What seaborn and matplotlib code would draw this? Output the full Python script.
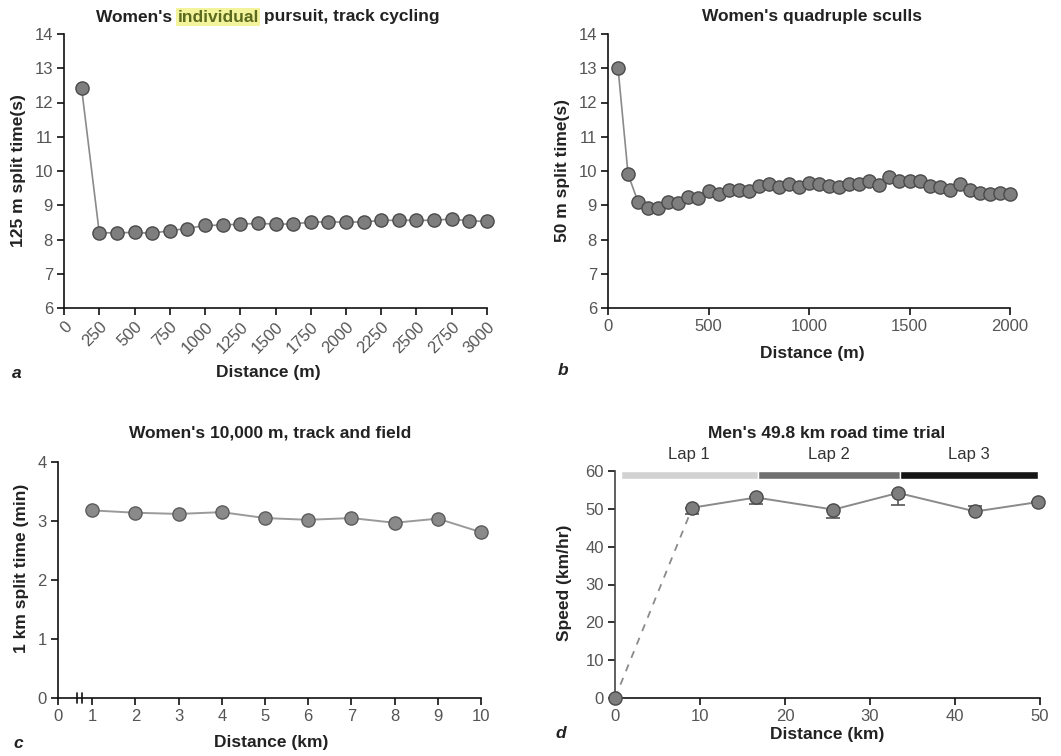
import matplotlib
matplotlib.use("Agg")
import matplotlib.pyplot as plt
import seaborn as sns
import numpy as np

# ---------------- data ----------------
a_dist = [125, 250, 375, 500, 625, 750, 875, 1000, 1125, 1250, 1375, 1500,
          1625, 1750, 1875, 2000, 2125, 2250, 2375, 2500, 2625, 2750, 2875, 3000]
a_split = [12.41, 8.20, 8.19, 8.21, 8.18, 8.26, 8.32, 8.41, 8.42, 8.45, 8.47, 8.45,
           8.45, 8.51, 8.51, 8.51, 8.51, 8.56, 8.56, 8.56, 8.56, 8.60, 8.54, 8.53]
a_xticks = [0, 250, 500, 750, 1000, 1250, 1500, 1750, 2000, 2250, 2500, 2750, 3000]

b_dist = list(range(50, 2001, 50))
b_split = [13.0, 9.90, 9.09, 8.92, 8.92, 9.10, 9.08, 9.25, 9.22, 9.42,
           9.32, 9.44, 9.44, 9.42, 9.57, 9.63, 9.53, 9.63, 9.52, 9.66,
           9.63, 9.55, 9.52, 9.63, 9.63, 9.72, 9.60, 9.82, 9.72, 9.72,
           9.72, 9.55, 9.53, 9.45, 9.63, 9.44, 9.36, 9.34, 9.37, 9.33]
b_xticks = [0, 500, 1000, 1500, 2000]

c_dist = [1, 2, 3, 4, 5, 6, 7, 8, 9, 10]
c_split = [3.18, 3.14, 3.12, 3.15, 3.05, 3.02, 3.05, 2.97, 3.04, 2.81]
c_xtick_labels = ["0", "1", "2", "3", "4", "5", "6", "7", "8", "9", "10"]

d_dist = [0, 9.1, 16.6, 25.7, 33.3, 42.4, 49.8]
d_speed = [0, 50.3, 53.0, 49.8, 54.2, 49.3, 51.8]
d_err_low = [0, 1.6, 1.8, 2.3, 3.1, 0, 0]
d_err_high = [0, 0, 0, 0, 0, 1.5, 0]
lap_names = ["Lap 1", "Lap 2", "Lap 3"]
lap_start = [0.7, 16.8, 33.5]
lap_end = [16.8, 33.5, 49.8]
lap_colors = ["#d2d2d2", "#707070", "#151515"]

# ---------------- style ----------------
sns.set_style("ticks")
plt.rcParams["font.family"] = ["Liberation Sans", "DejaVu Sans"]
plt.rcParams["axes.linewidth"] = 1.2
plt.rcParams["xtick.major.width"] = 1.2
plt.rcParams["ytick.major.width"] = 1.2
plt.rcParams["xtick.major.size"] = 5
plt.rcParams["ytick.major.size"] = 5
plt.rcParams["xtick.color"] = "#111111"
plt.rcParams["ytick.color"] = "#111111"
plt.rcParams["xtick.labelcolor"] = "#555555"
plt.rcParams["ytick.labelcolor"] = "#555555"
plt.rcParams["xtick.labelsize"] = 12
plt.rcParams["ytick.labelsize"] = 12
plt.rcParams["axes.edgecolor"] = "#111111"

W, H = 1061, 756
fig = plt.figure(figsize=(W / 100, H / 100), dpi=100)


def add_ax(left, top, right, bottom):
    return fig.add_axes([left / W, 1 - bottom / H, (right - left) / W, (bottom - top) / H])


def ftext(x, y, s, **kw):
    return fig.text(x / W, 1 - y / H, s, **kw)


TXT = "#222222"
LBL = dict(fontsize=12.5, fontweight="bold", color=TXT)
MK = dict(marker="o", markersize=9.5, markerfacecolor="#7e7e7e",
          markeredgecolor="#4a4a4a", markeredgewidth=1.0)


def style(ax):
    sns.despine(ax=ax)
    ax.tick_params(pad=3)


# ---------------- panel a ----------------
ax_a = add_ax(64, 34, 487, 308)
sns.lineplot(x=a_dist, y=a_split, ax=ax_a, color="#8a8a8a", linewidth=1.2, clip_on=False, **MK)
ax_a.set_xlim(0, 3000)
ax_a.set_ylim(6, 14)
ax_a.set_yticks(range(6, 15))
ax_a.set_xticks(a_xticks)
ax_a.set_xticklabels([str(t) for t in a_xticks], rotation=45, ha="right", rotation_mode="anchor")
style(ax_a)
ax_a.set_xlabel("")
ax_a.set_ylabel("")
ftext(268, 373, "Distance (m)", ha="center", va="center", **LBL)
ftext(19, 171, "125 m split time(s)", ha="center", va="center", rotation=90, **LBL)
# title with highlighted word
t_mid = ftext(218, 17, "individual", ha="center", va="center", fontsize=12.5, fontweight="bold",
              color="#5b6a1e", bbox=dict(boxstyle="square,pad=0.08", fc="#f3f39c", ec="none"))
ax_a.annotate("Women's ", xy=(0, 0), xycoords=t_mid, ha="right", va="bottom", **LBL,
              annotation_clip=False)
ax_a.annotate(" pursuit, track cycling", xy=(1, 0), xycoords=t_mid, ha="left", va="bottom", **LBL,
              annotation_clip=False)
ftext(17, 374, "a", ha="center", va="center", fontsize=12.5, fontweight="bold", style="italic", color=TXT)

# ---------------- panel b ----------------
ax_b = add_ax(608, 34, 1010, 308)
sns.lineplot(x=b_dist, y=b_split, ax=ax_b, color="#8a8a8a", linewidth=1.2, clip_on=False, **MK)
ax_b.set_xlim(0, 2000)
ax_b.set_ylim(6, 14)
ax_b.set_yticks(range(6, 15))
ax_b.set_xticks(b_xticks)
style(ax_b)
ax_b.set_xlabel("")
ax_b.set_ylabel("")
ftext(812, 353, "Distance (m)", ha="center", va="center", **LBL)
ftext(563, 171, "50 m split time(s)", ha="center", va="center", rotation=90, **LBL)
ftext(812, 17, "Women's quadruple sculls", ha="center", va="center", **LBL)
ftext(563, 371, "b", ha="center", va="center", fontsize=12.5, fontweight="bold", style="italic", color=TXT)

# ---------------- panel c ----------------
ax_c = add_ax(58, 462, 481, 698)
sns.lineplot(x=c_dist, y=c_split, ax=ax_c, color="#9a9a9a", linewidth=1.4, clip_on=False,
             marker="o", markersize=9.5, markerfacecolor="#8a8a8a",
             markeredgecolor="#5c5c5c", markeredgewidth=1.0)
x0 = 0.21
ax_c.set_xlim(x0, 10)
ax_c.set_ylim(0, 4)
ax_c.set_yticks(range(0, 5))
ax_c.set_xticks([x0] + c_dist)
ax_c.set_xticklabels(c_xtick_labels)
style(ax_c)
ax_c.set_xlabel("")
ax_c.set_ylabel("")
# axis break marks
for bx in (0.64, 0.76):
    ax_c.plot([bx, bx], [-0.09, 0.09], color="#111111", lw=1.2, clip_on=False)
ftext(271, 743, "Distance (km)", ha="center", va="center", **LBL)
ftext(22, 568, "1 km split time (min)", ha="center", va="center", rotation=90, **LBL)
ftext(270, 433, "Women's 10,000 m, track and field", ha="center", va="center", **LBL)
ftext(18, 743, "c", ha="center", va="center", fontsize=12.5, fontweight="bold", style="italic", color=TXT)

# ---------------- panel d ----------------
ax_d = add_ax(615, 471, 1040, 698)
# lap bars
for name, s, e, c in zip(lap_names, lap_start, lap_end, lap_colors):
    ax_d.barh(58.9, e - s, left=s, height=2.1, color=c, clip_on=False)
    ax_d.text((s + e) / 2, 64.3, name, ha="center", va="center", fontsize=12, color="#333333")
# dashed start segment
sns.lineplot(x=d_dist[:2], y=d_speed[:2], ax=ax_d, color="#8a8a8a", linewidth=1.3,
             linestyle=(0, (4, 4)))
ax_d.errorbar(d_dist[1:], d_speed[1:], yerr=[d_err_low[1:], d_err_high[1:]], fmt="none",
              ecolor="#555555", elinewidth=1.2, capsize=5, capthick=1.2, zorder=2)
sns.lineplot(x=d_dist[1:], y=d_speed[1:], ax=ax_d, color="#8a8a8a", linewidth=1.4, zorder=3,
             clip_on=False, **MK)
ax_d.plot(d_dist[:1], d_speed[:1], linestyle="none", clip_on=False, zorder=5, **MK)
ax_d.set_xlim(0, 50)
ax_d.set_ylim(0, 60)
ax_d.set_yticks(range(0, 61, 10))
ax_d.set_xticks(range(0, 51, 10))
style(ax_d)
ax_d.spines["left"].set_color("#444444")
ax_d.set_xlabel("")
ax_d.set_ylabel("")
ftext(827, 734, "Distance (km)", ha="center", va="center", **LBL)
ftext(565, 583, "Speed (km/hr)", ha="center", va="center", rotation=90, **LBL)
ftext(827, 433, "Men's 49.8 km road time trial", ha="center", va="center", **LBL)
ftext(561, 734, "d", ha="center", va="center", fontsize=12.5, fontweight="bold", style="italic", color=TXT)

fig.savefig("out.png", dpi=100, facecolor="white")
